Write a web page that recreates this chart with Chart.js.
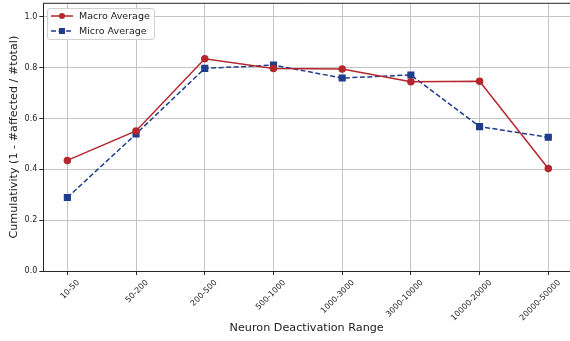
<!DOCTYPE html>
<html>
<head>
<meta charset="utf-8">
<script src="https://cdn.jsdelivr.net/npm/chart.js@4/dist/chart.umd.min.js"></script>
<style>
  body { margin: 0; background: #fff; }
  #wrap { position: relative; width: 570px; height: 341px; }
  #legenda {
    position: absolute; left: 47px; top: 8px; width: 106px; height: 30px;
    border: 1px solid #d0d0d0; border-radius: 3px;
    background: rgba(255, 255, 255, 0.85);
    font-family: "DejaVu Sans", sans-serif; font-size: 9.5px; color: #222;
  }
  .item { position: absolute; left: 2px; height: 12px; line-height: 12px; white-space: nowrap; }
  .item svg { position: absolute; left: 0; top: 0; }
  .item span { position: absolute; left: 29px; top: 0; }
</style>
</head>
<body>
<div id="wrap">
  <canvas id="grafico" width="570" height="341"></canvas>
  <div id="legenda">
    <div class="item" style="top:1px">
      <svg width="24" height="12"><line x1="1" y1="6" x2="23" y2="6" stroke="#b5272d" stroke-width="1.5"/><circle cx="12" cy="6" r="3" fill="#b5272d"/></svg>
      <span>Macro Average</span>
    </div>
    <div class="item" style="top:16px">
      <svg width="24" height="12"><line x1="1" y1="6" x2="23" y2="6" stroke="#1f3d8c" stroke-width="1.5" stroke-dasharray="5,2.5"/><rect x="9" y="3" width="6" height="6" fill="#1f3d8c"/></svg>
      <span>Micro Average</span>
    </div>
  </div>
</div>
<script>
const grafico = document.getElementById("grafico");

const faixas = [
  "10-50",
  "50-200",
  "200-500",
  "500-1000",
  "1000-3000",
  "3000-10000",
  "10000-20000",
  "20000-50000",
];
const macroMedia = [0.435, 0.551, 0.835, 0.797, 0.795, 0.744, 0.746, 0.403];
const microMedia = [0.289, 0.539, 0.797, 0.810, 0.759, 0.771, 0.568, 0.526];
const yTicks = [0, 0.2, 0.4, 0.6, 0.8, 1.0];

const pontos = (valores) => valores.map((v, i) => ({ x: i, y: v }));

// linha de cima do quadro (spine superior)
const bordaTopo = {
  id: "bordaTopo",
  afterDraw(chart) {
    const { ctx, chartArea } = chart;
    ctx.save();
    ctx.strokeStyle = "#262626";
    ctx.lineWidth = 1;
    ctx.beginPath();
    ctx.moveTo(chartArea.left, chartArea.top);
    ctx.lineTo(chartArea.right, chartArea.top);
    ctx.stroke();
    ctx.restore();
  },
};

new Chart(grafico, {
  type: "line",
  data: {
    datasets: [
      {
        label: "Macro Average",
        data: pontos(macroMedia),
        borderColor: "#b5272d",
        backgroundColor: "#b5272d",
        borderWidth: 1.5,
        pointStyle: "circle",
        pointRadius: 3,
        pointHoverRadius: 3,
      },
      {
        label: "Micro Average",
        data: pontos(microMedia),
        borderColor: "#1f3d8c",
        backgroundColor: "#1f3d8c",
        borderWidth: 1.5,
        borderDash: [5, 2.5],
        pointStyle: "rect",
        pointRadius: 4,
        pointHoverRadius: 4,
      },
    ],
  },
  plugins: [bordaTopo],
  options: {
    responsive: false,
    animation: false,
    layout: { autoPadding: false, padding: { top: 3.3, right: 0, left: 0, bottom: 0 } },
    plugins: {
      legend: { display: false },
      tooltip: { enabled: false },
    },
    scales: {
      x: {
        type: "linear",
        min: -0.35,
        max: 7.316,
        afterFit(scale) {
          scale.height = 70;
          scale.paddingLeft = 0;
          scale.paddingRight = 0;
        },
        afterBuildTicks(scale) {
          scale.ticks = faixas.map((_, i) => ({ value: i }));
        },
        ticks: {
          autoSkip: false,
          maxRotation: 45,
          minRotation: 45,
          padding: 3,
          labelOffset: 11,
          color: "#222",
          font: { family: "DejaVu Sans", size: 8 },
          callback: (v) => faixas[v],
        },
        grid: {
          color: "#c4c4c4",
          lineWidth: 1,
          tickLength: 4,
          tickColor: "#262626",
        },
        border: { color: "#262626", width: 1 },
        title: {
          display: true,
          text: "Neuron Deactivation Range",
          color: "#222",
          font: { family: "DejaVu Sans", size: 11.2 },
          padding: { top: 0, bottom: 6.5 },
        },
      },
      y: {
        min: 0,
        max: 1.053,
        afterFit(scale) {
          scale.width = 43.3;
          scale.paddingTop = 0;
          scale.paddingBottom = 0;
        },
        afterBuildTicks(scale) {
          scale.ticks = yTicks.map((v) => ({ value: v }));
        },
        ticks: {
          padding: 2,
          color: "#222",
          font: { family: "DejaVu Sans", size: 8 },
          callback: (v) => v.toFixed(1),
        },
        grid: {
          color: "#c4c4c4",
          lineWidth: 1,
          tickLength: 4,
          tickColor: "#262626",
        },
        border: { color: "#262626", width: 1 },
        title: {
          display: true,
          text: "Cumulativity (1 - #affected / #total)",
          color: "#222",
          font: { family: "DejaVu Sans", size: 11.2 },
          padding: { top: 7.5, bottom: 0 },
        },
      },
    },
  },
});
</script>
</body>
</html>
